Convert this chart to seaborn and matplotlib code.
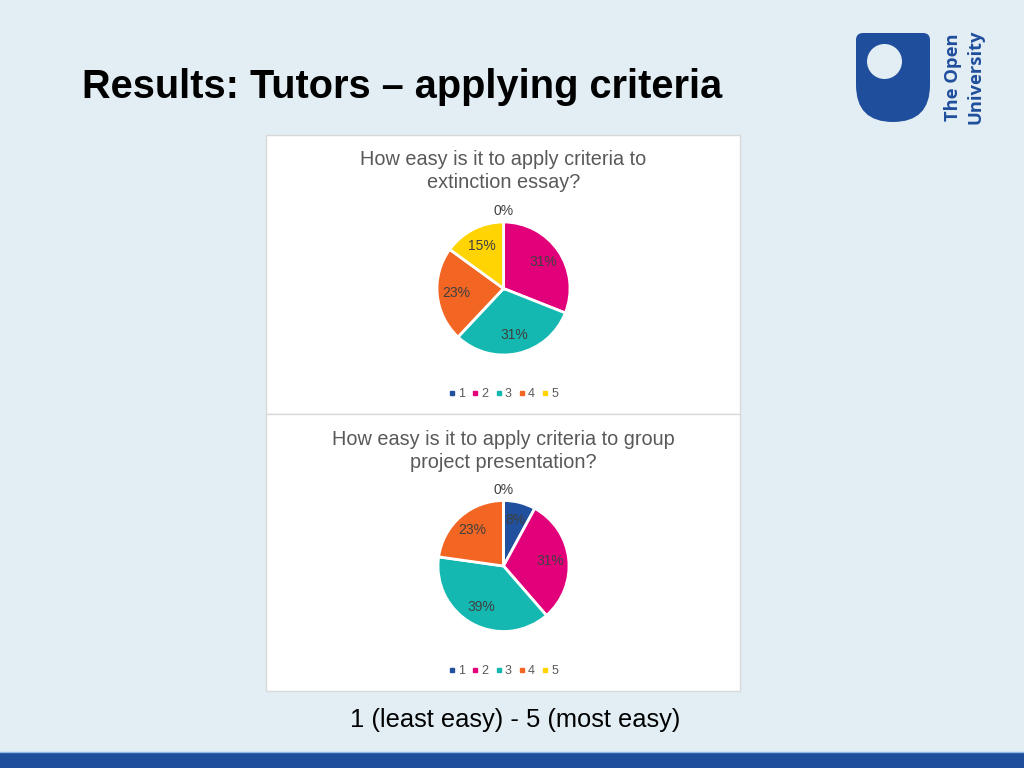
import matplotlib.pyplot as plt
import seaborn as sns
import numpy as np
from matplotlib.patches import Rectangle, Circle, PathPatch
from matplotlib.path import Path
from matplotlib.lines import Line2D

# ── Data (percent shown on each slice, ratings 1..5) ─────────
ratings = ["1", "2", "3", "4", "5"]
essay_pct = [0, 31, 31, 23, 15]
presentation_pct = [8, 31, 39, 23, 0]
titles = [
    "How easy is it to apply criteria to\nextinction essay?",
    "How easy is it to apply criteria to group\nproject presentation?",
]
slide_title = "Results: Tutors \u2013 applying criteria"
caption = "1 (least easy) - 5 (most easy)"

# ── Style ────────────────────────────────────────────────────
sns.set_style("white")
plt.rcParams["font.family"] = ["Liberation Sans", "DejaVu Sans"]

BG = "#e2eef4"
OU_BLUE = "#1f4e9c"
palette = sns.color_palette(["#21509e", "#e2007a", "#14b8b0", "#f26522", "#ffd400"])
GREY = "#595959"

W, H = 1024, 768
fig = plt.figure(figsize=(W / 100, H / 100), dpi=100, facecolor=BG)

# overlay in pixel coordinates for slide decorations
bg = fig.add_axes([0, 0, 1, 1])
bg.set_xlim(0, W)
bg.set_ylim(H, 0)
bg.axis("off")

# slide title
bg.text(82, 98, slide_title, fontsize=28.6, fontweight="bold",
        color="black", ha="left", va="baseline")

# Open University logo
verts = [(856, 40), (856, 33), (863, 33),
         (923, 33), (930, 33), (930, 40),
         (930, 85), (930, 122), (893, 122),
         (856, 122), (856, 85), (856, 40)]
codes = [Path.MOVETO, Path.CURVE3, Path.CURVE3,
         Path.LINETO, Path.CURVE3, Path.CURVE3,
         Path.LINETO, Path.CURVE3, Path.CURVE3,
         Path.CURVE3, Path.CURVE3, Path.CLOSEPOLY]
bg.add_patch(PathPatch(Path(verts, codes), fc=OU_BLUE, ec="none"))
bg.add_patch(Circle((884.5, 61.5), 17.5, fc=BG, ec="none"))
for x, word in [(953, "The Open"), (976, "University")]:
    bg.text(x, 77, word, rotation=90, fontsize=13.2, fontweight="bold",
            color=OU_BLUE, ha="center", va="center",
            family=["Open Sans", "DejaVu Sans"])

# chart panels
for top, bottom in [(135, 414), (414, 691)]:
    bg.add_patch(Rectangle((266, top), 474, bottom - top,
                           fc="white", ec="#d9d9d9", lw=1))

# caption and bottom stripe
bg.text(515, 727, caption, fontsize=18.4, color="black",
        ha="center", va="baseline")
bg.add_patch(Rectangle((0, 752), W, 16, fc=OU_BLUE, ec="none"))
bg.plot([0, W], [752, 752], color="#8db9e2", lw=1)


def draw_pie(values, title, cx, cy, r, title_y, legend_y):
    size = 220
    ax = fig.add_axes([(cx - size / 2) / W, (H - cy - size / 2) / H,
                       size / W, size / H])
    zero_labels = ["0%" if v == 0 else "" for v in values]
    wedges, texts, autotexts = ax.pie(
        values, colors=palette, startangle=90, counterclock=False,
        labels=zero_labels, labeldistance=1.16,
        autopct=lambda p: f"{p:.0f}%" if p > 0 else "",
        pctdistance=0.72,
        wedgeprops=dict(edgecolor="white", linewidth=2),
        textprops=dict(fontsize=10, color="#404040"),
    )
    for t in texts:
        t.set_ha("center")
        t.set_va("center")
    L = size / (2 * r)
    ax.set_xlim(-L, L)
    ax.set_ylim(-L, L)
    ax.axis("off")

    for i, line in enumerate(title.split("\n")):
        bg.text(cx, title_y + 22.5 * i, line, fontsize=14.3, color=GREY,
                ha="center", va="baseline")

    handles = [Line2D([], [], marker="s", ls="none", markersize=3.5,
                      color=c) for c in palette]
    fig.legend(handles, ratings, loc="center",
               bbox_to_anchor=(cx / W, 1 - legend_y / H), ncol=5,
               frameon=False, fontsize=9, handlelength=0.5,
               handletextpad=0.25, columnspacing=0.55, labelcolor=GREY)


draw_pie(essay_pct, titles[0], 503.5, 288.5, 66.5, 165, 394)
draw_pie(presentation_pct, titles[1], 503.5, 566, 65.5, 445, 671)

fig.savefig("out.png", dpi=100, facecolor=BG)
